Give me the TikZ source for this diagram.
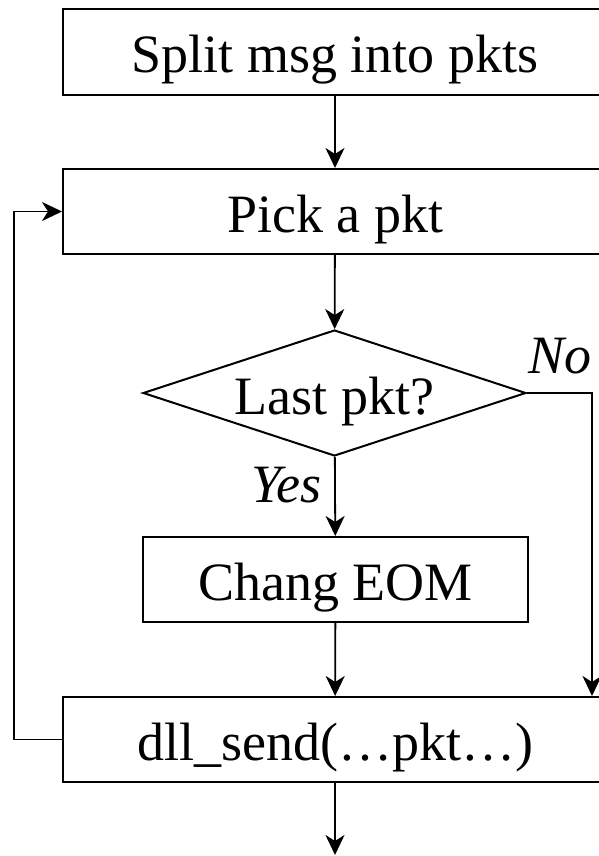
\documentclass[tikz,border=0pt]{standalone}
\usepackage{fontspec}
\setmainfont{Liberation Serif}
\usetikzlibrary{shapes.geometric,arrows.meta}
\begin{document}
\begin{tikzpicture}[x=1pt,y=-1pt,
  every node/.style={font=\fontsize{54}{62}\selectfont},
  procbox/.style={draw,line width=2pt,inner sep=0pt,minimum height=85pt,
    text height=42pt,text depth=0pt},
  decision/.style={draw,diamond,line width=2pt,inner sep=0pt,aspect=3.04,
    minimum width=383pt,minimum height=126pt,text height=42pt,text depth=0pt},
  flow/.style={line width=1.8pt,-{Stealth[length=20pt,width=19pt,inset=6pt]}},
  branch/.style={font=\fontsize{54}{62}\selectfont\itshape,inner sep=0pt}]
\useasboundingbox (0,0) rectangle (599,856);
\clip (0,0) rectangle (599,856);

% process steps
\node[procbox,minimum width=544pt,minimum height=86pt] (split) at (335,52) {Split msg into pkts};
\node[procbox,minimum width=544pt] (pick) at (335,211.5) {Pick a pkt};
\node[decision] (last) at (334.5,393) {Last pkt?};
\node[procbox,minimum width=385pt] (chang) at (335.5,579.5) {Chang EOM};
\node[procbox,minimum width=544pt] (send) at (335,739.5) {dll\_send(…pkt…)};
\coordinate (out) at (335,855);

% branch labels
\node[branch,anchor=base east] (yes) at (322,502) {Yes};
\node[branch,anchor=base west] (no) at (528,373) {No};

% connectors
\draw[flow] (split) -- (pick);
\draw[flow] (pick) -- (last);
\draw[flow] (last) -- (chang);
\draw[flow] (chang) -- (send);
\draw[flow] (send) -- (out);
\draw[flow] (last.east) -| ([xshift=-16pt]send.north east);
\draw[flow] (send.west) -- ++(-48,0) |- (pick.west);
\end{tikzpicture}
\end{document}
